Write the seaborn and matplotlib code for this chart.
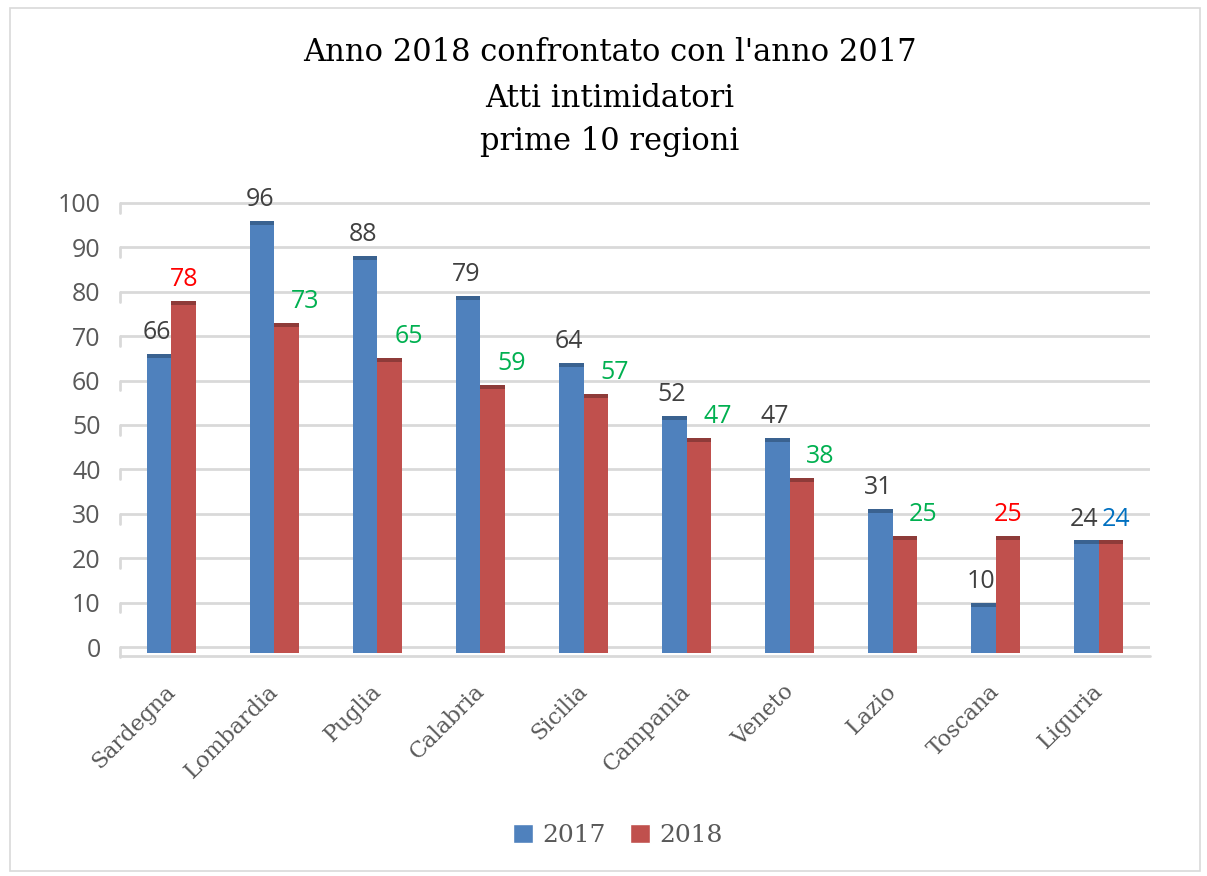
import matplotlib
matplotlib.use("Agg")
import matplotlib.pyplot as plt
import seaborn as sns
import pandas as pd
import numpy as np
from matplotlib.patches import Rectangle

regions = ["Sardegna", "Lombardia", "Puglia", "Calabria", "Sicilia",
           "Campania", "Veneto", "Lazio", "Toscana", "Liguria"]
values_2017 = [66, 96, 88, 79, 64, 52, 47, 31, 10, 24]
values_2018 = [78, 73, 65, 59, 57, 47, 38, 25, 25, 24]
series = ["2017", "2018"]
title_lines = ["Anno 2018 confrontato con l'anno 2017", "Atti intimidatori", "prime 10 regioni"]
yticks = [0, 10, 20, 30, 40, 50, 60, 70, 80, 90, 100]

df = pd.DataFrame({
    "Regione": regions * 2,
    "Anno": [series[0]] * len(regions) + [series[1]] * len(regions),
    "Valore": values_2017 + values_2018,
})

sns.set_theme(style="white")
serif = ["DejaVu Serif"]
sans = ["Open Sans", "DejaVu Sans"]

blue = "#4F81BD"
red = "#C0504D"
dark_blue = "#3A6290"
dark_red = "#8E3B39"
txt = "#595959"
grid_c = "#D9D9D9"

fig = plt.figure(figsize=(12.07, 8.76), dpi=100)
ax = fig.add_axes([0.0994, 0.2502, 0.9528 - 0.0994, 0.7785 - 0.2502])

sns.barplot(data=df, x="Regione", y="Valore", hue="Anno", order=regions,
            hue_order=series, palette=[blue, red], width=0.48, gap=0,
            ax=ax, legend=False, saturation=1)

ax.set_ylim(-2.2, 102)
ax.set_xlim(-0.5, len(regions) - 0.5)

# gridlines with small side stubs (pseudo 3D)
for v in yticks:
    ax.plot([-0.5, len(regions) - 0.5], [v, v], color=grid_c, lw=2, zorder=0.5)
    ax.plot([-0.5, -0.5], [v, v - 2.2], color=grid_c, lw=2, zorder=0.5, clip_on=False)
ax.plot([-0.5, len(regions) - 0.5], [-2.1, -2.1], color=grid_c, lw=2, zorder=0.5, clip_on=False)

# extend bars to floor and add darker top caps
cap = 0.9
for container, dark in zip(ax.containers, [dark_blue, dark_red]):
    for p in container.patches:
        h = p.get_height()
        p.set_y(-1.3)
        p.set_height(h + 1.3)
        p.set_edgecolor("none")
        ax.add_patch(Rectangle((p.get_x(), h - cap), p.get_width(), cap,
                               facecolor=dark, edgecolor="none", zorder=p.get_zorder() + 0.1))

# data labels
for i, (a, b) in enumerate(zip(values_2017, values_2018)):
    p1 = ax.containers[0].patches[i]
    p2 = ax.containers[1].patches[i]
    x1 = p1.get_x() + p1.get_width() / 2
    x2 = p2.get_x() + p2.get_width() / 2
    ax.text(x1 - 0.02, a + 2.0, str(a), ha="center", va="bottom", fontsize=18,
            color="#404040", family=sans)
    if b > a:
        c, dx = "#FF0000", 0.0
    elif b < a:
        c, dx = "#00B050", 0.18
    else:
        c, dx = "#0070C0", 0.05
    ax.text(x2 + dx, b + 2.0, str(b), ha="center", va="bottom", fontsize=18,
            color=c, family=sans)

ax.set_yticks(yticks)
ax.set_yticklabels([str(v) for v in yticks], fontsize=18, color=txt, family=sans)
ax.set_xticks(np.arange(len(regions)) - 0.07)
ax.set_xticklabels(regions, rotation=45, ha="right", rotation_mode="anchor",
                   fontsize=16, color=txt, family=serif)
ax.tick_params(axis="x", length=0, pad=17)
ax.tick_params(axis="y", length=0, pad=14)
ax.set_xlabel("")
ax.set_ylabel("")
for s in ax.spines.values():
    s.set_visible(False)

# title
ys = [0.940, 0.887, 0.838]
for line, y in zip(title_lines, ys):
    fig.text(0.505, y, line, ha="center", va="center", fontsize=22,
             color="#000000", family=serif)

# legend
handles = [Rectangle((0, 0), 1, 1, facecolor=blue), Rectangle((0, 0), 1, 1, facecolor=red)]
leg = fig.legend(handles, series, loc="center", bbox_to_anchor=(0.512, 0.046),
                 ncol=2, frameon=False, handlelength=0.8, handleheight=0.8,
                 handletextpad=0.35, columnspacing=1.0,
                 prop={"family": serif, "size": 18})
for t in leg.get_texts():
    t.set_color(txt)

# figure border
fig.patches.append(Rectangle((0.008, 0.006), 0.986, 0.985, transform=fig.transFigure,
                             fill=False, edgecolor=grid_c, lw=1.2))

fig.savefig("out.png", dpi=100)
